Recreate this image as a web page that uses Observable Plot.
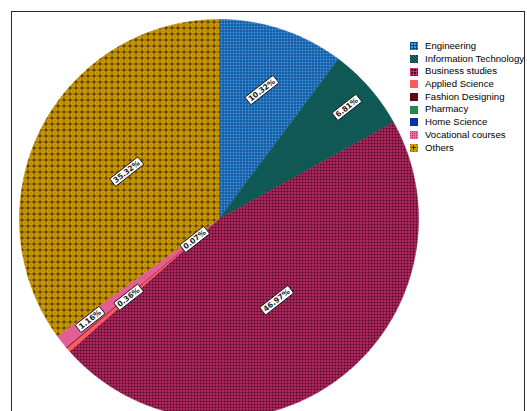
<!DOCTYPE html>
<html><head><meta charset="utf-8">
<script src="https://cdn.jsdelivr.net/npm/d3@7"></script>
<script src="https://cdn.jsdelivr.net/npm/@observablehq/plot@0.6"></script>
<style>
html,body{margin:0;padding:0;background:#fff;overflow:hidden;}
#wrap{position:relative;width:527px;height:411px;overflow:hidden;font-family:"Liberation Sans",Arial,sans-serif;}
#frame{position:absolute;left:11px;top:11px;width:514px;height:430px;border:1.5px solid #2a2a2a;box-sizing:border-box;}
#chart{position:absolute;left:0;top:0;}
#legend{position:absolute;left:410px;top:40px;width:130px;}
#legend .lg-swatches{font-family:"Liberation Sans",Arial,sans-serif !important;font-size:9.6px !important;margin:0 !important;color:#000;}
#legend .lg-swatch{height:12.7px;line-height:12.7px;padding:0 !important;margin:0 !important;display:flex;align-items:center;}
#legend .lg-swatch svg{margin-right:7px !important;}
#legend .lg-swatch-label, #legend span{overflow:visible !important;text-overflow:clip !important;}
#defs{position:absolute;left:0;top:0;width:0;height:0;}
</style>
</head><body>
<svg id="defs" width="0" height="0" shape-rendering="crispEdges">
<defs>
<pattern id="p-eng" patternUnits="userSpaceOnUse" width="3" height="3">
  <rect width="3" height="3" fill="#3a9cf0"/>
  <rect width="3" height="1" fill="#114a88"/>
  <rect width="1" height="3" fill="#114a88"/>
</pattern>
<pattern id="p-it" patternUnits="userSpaceOnUse" width="3" height="3">
  <rect width="3" height="3" fill="#17706a"/>
  <rect x="0" y="0" width="1" height="1" fill="#032a28"/>
  <rect x="1" y="1" width="1" height="1" fill="#032a28"/>
  <rect x="2" y="2" width="1" height="1" fill="#032a28"/>
</pattern>
<pattern id="p-bus" patternUnits="userSpaceOnUse" width="3" height="3">
  <rect width="3" height="3" fill="#c8306c"/>
  <rect x="1" y="1" width="2" height="2" fill="#4a0624"/>
</pattern>
<pattern id="p-voc" patternUnits="userSpaceOnUse" width="2" height="2">
  <rect width="2" height="2" fill="#ee6aa2"/>
  <rect x="0" y="0" width="1" height="1" fill="#c23a74"/>
</pattern>
<pattern id="p-oth" patternUnits="userSpaceOnUse" width="6" height="6">
  <rect width="6" height="6" fill="#cf9a00"/>
  <rect x="3" y="1" width="1" height="5" fill="#4a3600"/>
  <rect x="1" y="3" width="5" height="1" fill="#4a3600"/>
  <rect x="3" y="3" width="1" height="1" fill="#2a1e00"/>
  <rect x="0" y="0" width="1" height="1" fill="#7a5c00"/>
</pattern>
</defs>
</svg>
<div id="wrap">
  <div id="frame"></div>
  <div id="chart"></div>
  <div id="legend"></div>
</div>
<script>
// ---- data ----
const categories = ["Engineering","Information Technology","Business studies","Applied Science","Fashion Designing","Pharmacy","Home Science","Vocational courses","Others"];
const percents = [10.32, 6.81, 46.97, 0.36, 0.07, 0, 0, 1.16, 35.32];
// ---- style / layout ----
const fills = ["url(#p-eng)","url(#p-it)","url(#p-bus)","#ff5a5f","#5e0a12","#1f8a4c","#0d2fa6","url(#p-voc)","url(#p-oth)"];
const labelRadius = [0.68, 0.85, 0.5, 0.6, 0.16, 0, 0, 0.82, 0.52];

const rows = categories.map((name, i) => ({name, value: percents[i], i}));
const arcs = d3.pie().sort(null).value(d => d.value)(rows);

const pts = [];
const labels = [];
for (const s of arcs) {
  const span = s.endAngle - s.startAngle;
  if (span <= 0) continue;
  const name = s.data.name;
  pts.push({name, x: 0, y: 0});
  const n = Math.max(2, Math.ceil(span / (Math.PI / 360)));
  for (let k = 0; k <= n; k++) {
    const a = s.startAngle + span * k / n;
    pts.push({name, x: Math.sin(a), y: Math.cos(a)});
  }
  const mid = (s.startAngle + s.endAngle) / 2;
  const r = labelRadius[s.data.i];
  labels.push({x: r * Math.sin(mid), y: r * Math.cos(mid), text: s.data.value.toFixed(2) + "%"});
}

const W = 527, H = 411, R = 199.5, padTop = 19, padLeft = 19;
const ymin = 1 - (H - padTop) / R;

const chart = Plot.plot({
  width: W, height: H,
  marginLeft: padLeft, marginRight: W - padLeft - 2 * R, marginTop: padTop, marginBottom: 0,
  x: {domain: [-1, 1], axis: null},
  y: {domain: [ymin, 1], axis: null},
  color: {domain: categories, range: fills, type: "ordinal"},
  style: {background: "transparent", overflow: "hidden"},
  marks: [
    Plot.line(pts, {x: "x", y: "y", z: "name", fill: "name", stroke: "name", strokeWidth: 0.6, curve: "linear-closed"}),
    Plot.text(labels, {x: "x", y: "y", text: "text", rotate: -38, fontSize: 7.5, fontWeight: "bold", fill: "#222", fontFamily: "DejaVu Sans, Verdana, sans-serif"})
  ]
});
document.getElementById("chart").appendChild(chart);

// white label boxes
const ns = "http://www.w3.org/2000/svg";
chart.querySelectorAll('g[aria-label="text"] text').forEach(t => {
  const b = t.getBBox();
  const r = document.createElementNS(ns, "rect");
  r.setAttribute("x", b.x - 2);
  r.setAttribute("y", b.y - 0.3);
  r.setAttribute("width", b.width + 4);
  r.setAttribute("height", b.height + 0.6);
  r.setAttribute("rx", 1);
  r.setAttribute("fill", "#fff");
  r.setAttribute("stroke", "#111");
  r.setAttribute("stroke-width", 0.9);
  const tr = t.getAttribute("transform");
  if (tr) r.setAttribute("transform", tr);
  t.parentNode.insertBefore(r, t);
});

const legend = Plot.legend({
  color: {domain: categories, range: fills, type: "ordinal"},
  legend: "swatches", columns: 1, swatchSize: 8, className: "lg"
});
document.getElementById("legend").appendChild(legend);
</script>
</body></html>
